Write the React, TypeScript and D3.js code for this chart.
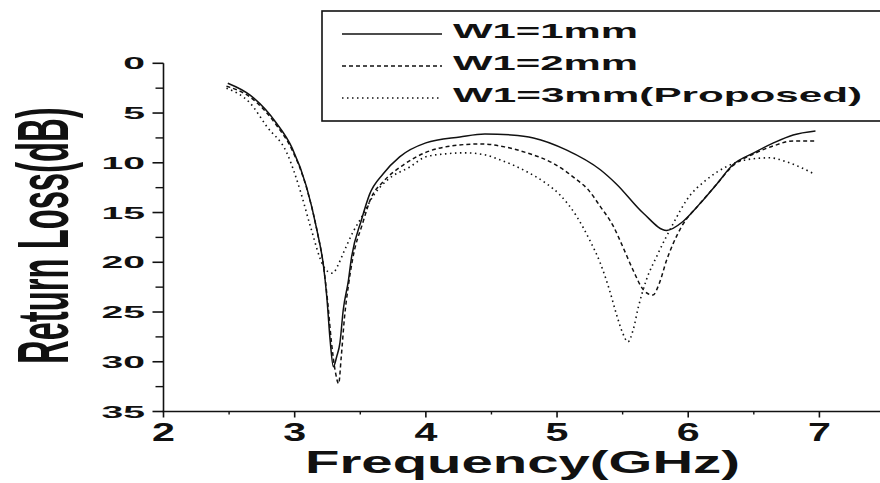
import React from 'react';
import * as d3 from 'd3';

// W1 = 1 mm (solid)
const freq1 = [2.49, 2.66, 2.86, 2.98, 3.09, 3.17, 3.22, 3.245, 3.27, 3.295, 3.32, 3.345, 3.37, 3.41, 3.43, 3.51, 3.57, 3.675, 3.8, 4.0, 4.26, 4.45, 4.65, 4.82, 5.07, 5.33, 5.45, 5.66, 5.835, 5.96, 6.09, 6.22, 6.34, 6.5, 6.65, 6.8, 6.97];
const loss1 = [2.0, 3.2, 6.0, 8.5, 12.4, 16.8, 20.4, 23.5, 27.8, 30.5, 29.5, 28.1, 24.8, 21.8, 19.8, 15.7, 13.2, 11.1, 9.4, 8.0, 7.4, 7.1, 7.2, 7.5, 8.7, 10.7, 12.1, 15.1, 16.8, 15.9, 14.1, 12.1, 10.2, 9.0, 8.0, 7.2, 6.8];

// W1 = 2 mm (dashed)
const freq2 = [2.48, 2.66, 2.86, 2.98, 3.09, 3.17, 3.22, 3.25, 3.28, 3.31, 3.335, 3.355, 3.38, 3.41, 3.44, 3.52, 3.58, 3.675, 3.83, 4.0, 4.2, 4.42, 4.6, 4.77, 4.97, 5.15, 5.23, 5.33, 5.43, 5.5, 5.58, 5.66, 5.73, 5.78, 5.835, 5.886, 5.95, 6.09, 6.22, 6.34, 6.5, 6.65, 6.8, 6.97];
const loss2 = [2.3, 3.4, 6.2, 8.7, 12.5, 16.8, 20.4, 23.8, 28.0, 31.0, 32.2, 29.5, 25.5, 22.3, 19.8, 16.0, 13.6, 11.9, 10.2, 8.95, 8.3, 8.1, 8.4, 9.0, 10.05, 11.7, 12.6, 14.4, 16.4, 18.4, 20.8, 22.8, 23.3, 22.1, 19.8, 18.1, 16.4, 14.1, 12.1, 10.3, 9.1, 8.3, 7.8, 7.8];

// W1 = 3 mm, proposed (dotted)
const freq3 = [2.48, 2.66, 2.79, 2.94, 3.04, 3.12, 3.22, 3.26, 3.29, 3.33, 3.37, 3.447, 3.5, 3.6, 3.7, 3.88, 4.0, 4.15, 4.3, 4.45, 4.565, 4.77, 4.92, 5.02, 5.15, 5.25, 5.33, 5.4, 5.45, 5.5, 5.54, 5.58, 5.62, 5.68, 5.76, 5.886, 5.99, 6.14, 6.29, 6.44, 6.62, 6.78, 6.95];
const loss3 = [2.5, 4.0, 6.4, 9.0, 12.7, 16.4, 20.4, 21.0, 21.1, 20.3, 19.1, 16.9, 15.7, 13.3, 11.8, 10.4, 9.4, 9.1, 9.0, 9.2, 9.7, 10.9, 12.1, 13.2, 15.4, 17.8, 20.1, 22.8, 25.1, 27.1, 28.0, 26.8, 24.5, 21.8, 19.4, 16.1, 13.7, 11.7, 10.4, 9.7, 9.5, 10.05, 11.05];

const seriesNames = ['W1=1mm', 'W1=2mm', 'W1=3mm(Proposed)'];
const xTicks = [2, 3, 4, 5, 6, 7];
const xMinorTicks = [2.5, 3.5, 4.5, 5.5, 6.5];
const yTicks = [0, 5, 10, 15, 20, 25, 30, 35];
const yMinorTicks = [2.5, 7.5, 12.5, 17.5, 22.5, 27.5, 32.5];

const W = 880;
const H = 483;
const FONT = '"Liberation Sans", Arial, sans-serif';

const x = d3.scaleLinear().domain([2, 7.5]).range([163.5, 885]);
const y = d3.scaleLinear().domain([0, 35]).range([63.3, 411.5]);

const line = d3
  .line<[number, number]>()
  .x((d) => x(d[0]))
  .y((d) => y(d[1]))
  .curve(d3.curveMonotoneX);

const zip = (fs: number[], vs: number[]) => fs.map((f, i) => [f, vs[i]] as [number, number]);

const series = [
  { name: seriesNames[0], pts: zip(freq1, loss1), dash: 'none', width: 1.5 },
  { name: seriesNames[1], pts: zip(freq2, loss2), dash: '4,3', width: 1.5 },
  { name: seriesNames[2], pts: zip(freq3, loss3), dash: '1.5,3.5', width: 1.6 },
];

const legendLens = [185, 185, 409];

export default function App() {
  return (
    <svg
      width={W}
      height={H}
      style={{ position: 'absolute', left: 0, top: 0, background: '#fff' }}
      fontFamily={FONT}
    >
      <rect x={0} y={0} width={W} height={H} fill="#fff" />

      {/* curves */}
      {series.map((s) => (
        <path
          key={s.name}
          d={line(s.pts) || ''}
          fill="none"
          stroke="#111"
          strokeWidth={s.width}
          strokeDasharray={s.dash}
        />
      ))}

      {/* y axis */}
      <line x1={x(2)} x2={x(2)} y1={y(0)} y2={y(35)} stroke="#111" strokeWidth={1.6} />
      {yTicks.map((t) => (
        <g key={'yt' + t}>
          <line x1={x(2) - 11} x2={x(2)} y1={y(t)} y2={y(t)} stroke="#111" strokeWidth={1.6} />
          <text
            transform={`translate(145, ${y(t) + 6}) scale(2.3, 1)`}
            textAnchor="end"
            fontSize={17}
            fontWeight="bold"
            fill="#111"
          >
            {t}
          </text>
        </g>
      ))}
      {yMinorTicks.map((t) => (
        <line key={'ym' + t} x1={x(2) - 8} x2={x(2)} y1={y(t)} y2={y(t)} stroke="#111" strokeWidth={1.4} />
      ))}

      {/* x axis */}
      <line x1={x(2) - 1} x2={W} y1={y(35)} y2={y(35)} stroke="#111" strokeWidth={1.6} />
      {xTicks.map((t) => (
        <g key={'xt' + t}>
          <line x1={x(t)} x2={x(t)} y1={y(35)} y2={y(35) + 6} stroke="#111" strokeWidth={1.6} />
          <text
            transform={`translate(${x(t)}, 441) scale(1.65, 1)`}
            textAnchor="middle"
            fontSize={25}
            fontWeight="bold"
            fill="#111"
          >
            {t}
          </text>
        </g>
      ))}
      {xMinorTicks.map((t) => (
        <line key={'xm' + t} x1={x(t)} x2={x(t)} y1={y(35)} y2={y(35) + 3} stroke="#111" strokeWidth={1.4} />
      ))}

      {/* axis titles */}
      <text
        x={305}
        y={473}
        fontSize={31}
        fontWeight="bold"
        fill="#111"
        textLength={435}
        lengthAdjust="spacingAndGlyphs"
      >
        Frequency(GHz)
      </text>
      <text
        transform="translate(68, 364) rotate(-90) scale(0.455, 1)"
        x={0}
        y={0}
        fontSize={72}
        fontWeight="bold"
        fill="#111"
      >
        Return Loss(dB)
      </text>

      {/* legend */}
      <rect x={322} y={11} width={600} height={110} fill="#fff" stroke="#111" strokeWidth={1.6} />
      {series.map((s, i) => (
        <g key={'lg' + s.name}>
          <line
            x1={342}
            x2={442}
            y1={34 + i * 32}
            y2={34 + i * 32}
            stroke="#111"
            strokeWidth={s.width}
            strokeDasharray={s.dash}
          />
          <text
            x={453}
            y={38 + i * 32}
            fontSize={21}
            fontWeight="bold"
            fill="#111"
            textLength={legendLens[i]}
            lengthAdjust="spacingAndGlyphs"
          >
            {s.name}
          </text>
        </g>
      ))}
    </svg>
  );
}
